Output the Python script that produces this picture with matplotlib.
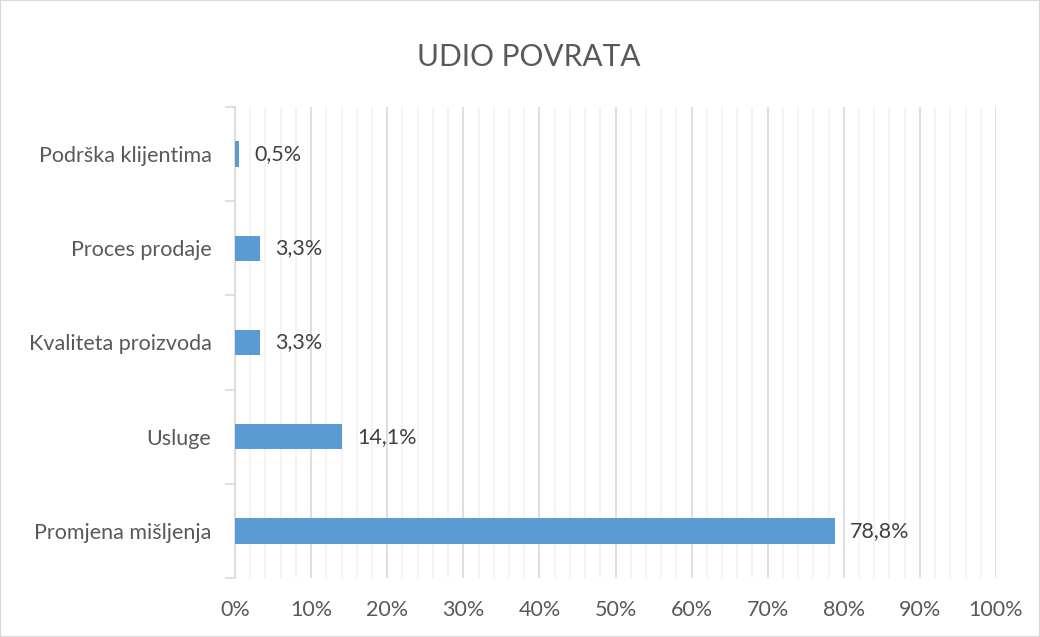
import numpy as np
import matplotlib.pyplot as plt
from matplotlib.patches import Rectangle

categories = ['Promjena mišljenja', 'Usluge', 'Kvaliteta proizvoda', 'Proces prodaje', 'Podrška klijentima']
values = [78.8, 14.1, 3.3, 3.3, 0.5]
labels = ['78,8%', '14,1%', '3,3%', '3,3%', '0,5%']
xticks = [0, 10, 20, 30, 40, 50, 60, 70, 80, 90, 100]

plt.rcParams['font.family'] = ['Lato', 'DejaVu Sans']
text_col = '#595959'
bar_col = '#5B9BD5'

fig = plt.figure(figsize=(10.4, 6.37), dpi=100)
fig.patches.append(Rectangle((0, 0), 1, 1, transform=fig.transFigure,
                             fill=False, edgecolor='#D9D9D9', linewidth=1.5))
ax = fig.add_axes([235/1040, 1 - 578/637, (996 - 235)/1040, (578 - 107)/637])

y = np.arange(len(categories))
ax.barh(y, values, height=0.27, color=bar_col, zorder=3)
for yi, v, lab in zip(y, values, labels):
    ax.text(v + 2.0, yi, lab, va='center', ha='left', fontsize=15.5, color='#404040')

ax.set_xlim(0, 100)
ax.set_ylim(-0.5, len(categories) - 0.5)
ax.set_xticks(xticks)
ax.set_xticklabels([f'{t}%' for t in xticks], fontsize=15.5, color=text_col)
ax.set_xticks(np.arange(0, 101, 2), minor=True)
ax.grid(axis='x', which='major', color='#D9D9D9', linewidth=1.2, zorder=0)
ax.grid(axis='x', which='minor', color='#F2F2F2', linewidth=1.2, zorder=0)
ax.tick_params(axis='x', which='both', length=0, pad=16)

ax.set_yticks(y)
ax.set_yticklabels(categories, fontsize=15.5, color=text_col)
ax.set_yticks(np.arange(-0.5, len(categories), 1), minor=True)
ax.tick_params(axis='y', which='major', length=0, pad=17)
ax.tick_params(axis='y', which='minor', length=7, color='#D9D9D9', width=1.2)

for s in ['top', 'right', 'bottom']:
    ax.spines[s].set_visible(False)
ax.spines['left'].set_color('#D9D9D9')
ax.spines['left'].set_linewidth(1.2)

fig.text(529/1040, 1 - 57/637, 'UDIO POVRATA', ha='center', va='center',
         fontsize=21.5, color=text_col)

fig.savefig('out.png', dpi=100)
